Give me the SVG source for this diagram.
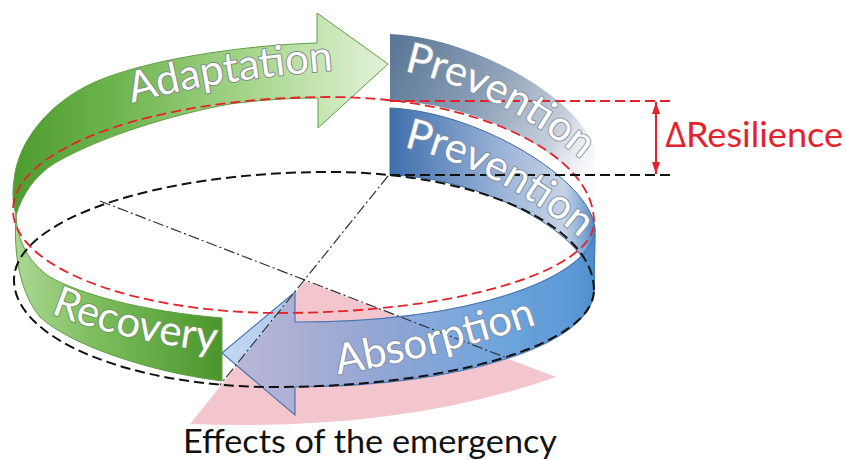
<svg xmlns="http://www.w3.org/2000/svg" width="846" height="460" viewBox="0 0 846 460">
<style>
.lbl{font-family:Lato,'Open Sans','Liberation Sans',sans-serif;font-size:42px;fill:#ffffff;stroke:#7f8a8c;stroke-width:2;paint-order:stroke;stroke-linejoin:round}
.dashK{fill:none;stroke:#111;stroke-width:2;stroke-dasharray:10 5}
.dashR{fill:none;stroke:#e5222b;stroke-width:1.8;stroke-dasharray:10 5}
.dashdot{fill:none;stroke:#333;stroke-width:1.2;stroke-dasharray:11 3 2 3}
.cap{font-family:Lato,'Open Sans','Liberation Sans',sans-serif}
</style>
<defs>
<linearGradient id="gAdapt" gradientUnits="userSpaceOnUse" x1="14" y1="0" x2="388" y2="0">
<stop offset="0" stop-color="#4e9c2e"/><stop offset="0.3" stop-color="#72b752"/><stop offset="0.65" stop-color="#a9d78e"/><stop offset="1" stop-color="#e4f3da"/>
</linearGradient>
<linearGradient id="gRecov" gradientUnits="userSpaceOnUse" x1="14" y1="0" x2="222" y2="0">
<stop offset="0" stop-color="#acd894"/><stop offset="0.4" stop-color="#7cbd5c"/><stop offset="1" stop-color="#4a962c"/>
</linearGradient>
<linearGradient id="gGhost" gradientUnits="userSpaceOnUse" x1="392" y1="50" x2="595" y2="165">
<stop offset="0" stop-color="#5b7897"/><stop offset="0.45" stop-color="#8ea2b8"/><stop offset="0.8" stop-color="#c9d2dd"/><stop offset="1" stop-color="#f2f4f7" stop-opacity="0.4"/>
</linearGradient>
<linearGradient id="gPrev" gradientUnits="userSpaceOnUse" x1="390" y1="0" x2="595" y2="0">
<stop offset="0" stop-color="#3f6fae"/><stop offset="0.6" stop-color="#a4badb"/><stop offset="0.85" stop-color="#c6d3e4"/><stop offset="0.94" stop-color="#84aad8"/><stop offset="1" stop-color="#4a88cc"/>
</linearGradient>
<linearGradient id="gAbs" gradientUnits="userSpaceOnUse" x1="222" y1="0" x2="595" y2="0">
<stop offset="0" stop-color="#6ea6e6" stop-opacity="0.42"/><stop offset="0.2" stop-color="#7d9fd8" stop-opacity="0.6"/><stop offset="0.45" stop-color="#7e9fd6" stop-opacity="0.85"/><stop offset="0.75" stop-color="#6ea5dc"/><stop offset="0.95" stop-color="#5a98d5"/><stop offset="1" stop-color="#4f8cca"/>
</linearGradient>
<marker id="arrR" viewBox="0 0 12 8" refX="12" refY="4" markerWidth="12" markerHeight="8" markerUnits="userSpaceOnUse" orient="auto-start-reverse">
<path d="M0,0 L12,4 L0,8 Z" fill="#e5222b"/>
</marker>
<path id="pAdapt" d="M128,104 Q220,78 350,69"/>
<path id="pPrevUp" d="M400,70 C460,83 522,108 594,170"/>
<path id="pPrevLo" d="M400,146 C460,160 522,186 594,250"/>
<path id="pRecov" d="M48,312 Q122,342 228,353"/>
<path id="pAbs" d="M334,375 Q430,359 545,322"/>
</defs>

<rect width="846" height="460" fill="#ffffff"/>

<g id="effects">
<path d="M305,281 L190,424 Q400,432 556,377 Z" fill="#f3c6cd"/>
</g>

<g id="prevention-ghost">
<path d="M390,34 C480,38 590,106 595,154 L594,222 C594,160 480,102 390,101 Z" fill="url(#gGhost)"/>
</g>

<g id="prevention">
<path d="M390,108 C480,112 590,180 595,228 L594,290 C594,232 478,177 390,175 Z" fill="url(#gPrev)" stroke="#3d6aa3" stroke-width="1"/>
</g>

<g id="adaptation">
<path d="M317,43 C250,45 150,58 95,82 C50,102 18,140 14,180 C12,195 13,205 16,215 C22,195 35,175 55,163 C100,137 170,115 230,104 C260,100 290,98 318,98 L318,128 L388,64 L317,13 Z" fill="url(#gAdapt)" stroke="#5f9e45" stroke-width="1"/>
</g>

<g id="recovery">
<path d="M16,215 C17,242 30,264 50,277 C80,294 140,311 222,318 L222,381 C150,372 70,345 40,317 C22,295 13,260 16,215 Z" fill="url(#gRecov)" stroke="#5f9e45" stroke-width="1"/>
</g>

<g id="absorption">
<path d="M595,228 C595,275 480,322 295,322 L295,292 L222,353 L295,415 L295,387 C460,387 594,344 594,290 Z" fill="url(#gAbs)" stroke="#4a78b0" stroke-width="1.2"/>
</g>

<g id="connectors">
<path class="dashK" d="M594,290 C594,225 476,172 330,172 C155,172 14,220 14,280 C14,339 131,387 275,387 C451,387 594,344 594,290 Z"/>
<path class="dashR" d="M594,222 C594,153 476,97 330,97 C155,97 13,148 13,210 C13,267 133,313 280,313 C453,313 594,272 594,222 Z"/>
<line class="dashdot" x1="100" y1="201" x2="507" y2="358"/>
<line class="dashdot" x1="388" y1="176" x2="220" y2="385"/>
<line class="dashR" x1="390" y1="101" x2="673" y2="101"/>
<line class="dashK" x1="390" y1="175" x2="673" y2="175"/>
<line x1="656" y1="102" x2="656" y2="174" stroke="#e5222b" stroke-width="2" marker-start="url(#arrR)" marker-end="url(#arrR)"/>
</g>

<g id="labels">
<text class="lbl"><textPath href="#pAdapt" startOffset="4">Adaptation</textPath></text>
<text class="lbl" style="stroke:#8a96a4"><textPath href="#pPrevUp" startOffset="4">Prevention</textPath></text>
<text class="lbl" style="stroke:#7d8ea6"><textPath href="#pPrevLo" startOffset="4">Prevention</textPath></text>
<text class="lbl" style="stroke:#6e9a5e"><textPath href="#pRecov" startOffset="3">Recovery</textPath></text>
<text class="lbl" style="stroke:#8090aa"><textPath href="#pAbs" startOffset="4">Absorption</textPath></text>
</g>

<g id="resilience">
<text class="cap" x="665" y="147" font-size="35" fill="#e5222b" textLength="178" lengthAdjust="spacingAndGlyphs">∆Resilience</text>
</g>
<g id="effects-label">
<text class="cap" x="183" y="453" font-size="33" fill="#111" textLength="374" lengthAdjust="spacingAndGlyphs">Effects of the emergency</text>
</g>
</svg>
